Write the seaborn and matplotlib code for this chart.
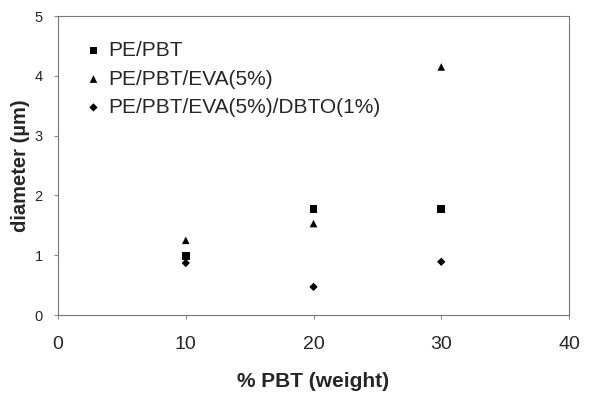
import matplotlib
matplotlib.use("Agg")
import matplotlib.pyplot as plt
import seaborn as sns
import pandas as pd

pbt = [10, 20, 30]
pe_pbt = [0.99, 1.77, 1.77]
pe_pbt_eva = [1.25, 1.53, 4.15]
pe_pbt_eva_dbto = [0.87, 0.47, 0.89]
series_names = ["PE/PBT", "PE/PBT/EVA(5%)", "PE/PBT/EVA(5%)/DBTO(1%)"]

df = pd.DataFrame({
    "pbt": pbt * 3,
    "diameter": pe_pbt + pe_pbt_eva + pe_pbt_eva_dbto,
    "series": [series_names[0]] * 3 + [series_names[1]] * 3 + [series_names[2]] * 3,
})

sns.set_style("white")
plt.rcParams['font.family'] = ['Liberation Sans', 'DejaVu Sans']

fig = plt.figure(figsize=(6.05, 3.94), dpi=100)
ax = fig.add_axes([0.0959, 0.2005, 0.8446, 0.7585])

markers = {series_names[0]: "s", series_names[1]: "^", series_names[2]: "D"}
sizes = {series_names[0]: 30, series_names[1]: 30, series_names[2]: 18}
for name in series_names:
    sub = df[df["series"] == name]
    sns.scatterplot(data=sub, x="pbt", y="diameter", marker=markers[name],
                    color="black", s=sizes[name], edgecolor="none", ax=ax, label=name)

ax.set_xlim(0, 40)
ax.set_ylim(0, 5)
ax.set_xticks([0, 10, 20, 30, 40])
ax.set_yticks([0, 1, 2, 3, 4, 5])
ax.tick_params(axis="x", labelsize=14, pad=12, length=3, direction="out", color="#888888")
ax.tick_params(axis="y", labelsize=10.5, pad=8, length=3, direction="out", color="#888888")
ax.tick_params(bottom=True, left=True)
ax.set_xlabel("% PBT (weight)", fontsize=15, fontweight="bold", labelpad=14)
ax.set_ylabel("diameter (µm)", fontsize=14.5, fontweight="bold", labelpad=3)
for s in ax.spines.values():
    s.set_visible(True)
    s.set_color("#777777")
    s.set_linewidth(0.8)

leg = ax.legend(loc="upper left", frameon=False, fontsize=15, handletextpad=0.2,
                borderaxespad=0.8, labelspacing=0.45, handlelength=1.0,
                bbox_to_anchor=(0.0, 1.0))

fig.savefig("out.png", dpi=100)
